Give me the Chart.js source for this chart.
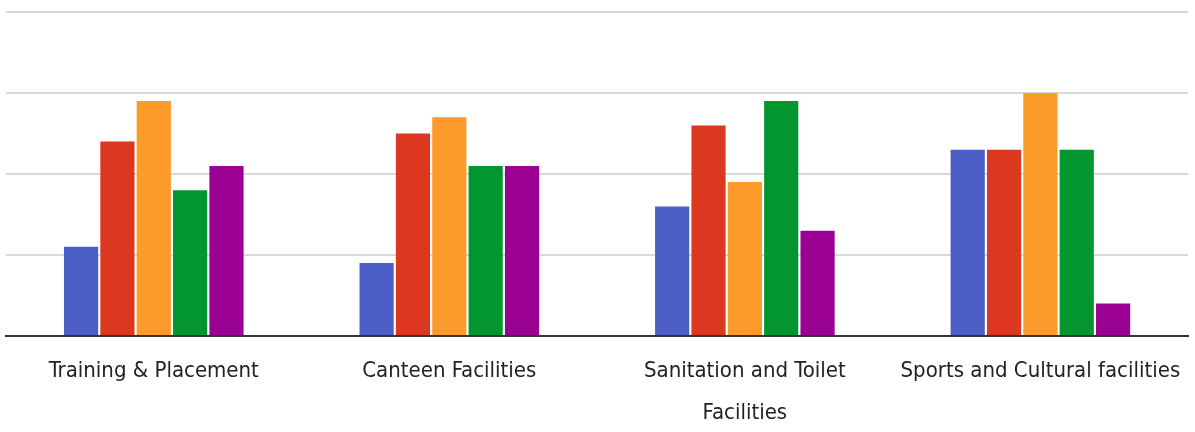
<!DOCTYPE html>
<html lang="en">
<head>
    <meta charset="UTF-8">
    <title>Facilities Survey</title>
    <script src="https://cdn.jsdelivr.net/npm/chart.js"></script>
    <style>
        body {
            margin: 0;
            background-color: #ffffff;
        }
        #chart-container {
            width: 1195px;
            height: 432px;
        }
    </style>
</head>
<body>
    <div id="chart-container">
        <canvas id="surveyChart"></canvas>
    </div>

    <script>
        // categories and series values
        const categories = [
            'Training & Placement',
            'Canteen Facilities',
            ['Sanitation and Toilet', 'Facilities'],
            'Sports and Cultural facilities'
        ];
        const seriesBlue = [11, 9, 16, 23];
        const seriesRed = [24, 25, 26, 23];
        const seriesOrange = [29, 27, 19, 30];
        const seriesGreen = [18, 21, 29, 23];
        const seriesPurple = [21, 21, 13, 4];

        const colors = ['#4a5ec6', '#dc381f', '#fc9a2a', '#04962e', '#9a0092'];
        const series = [seriesBlue, seriesRed, seriesOrange, seriesGreen, seriesPurple];

        const ctx = document.getElementById('surveyChart').getContext('2d');
        const chart = new Chart(ctx, {
            type: 'bar',
            data: {
                labels: categories,
                datasets: series.map((values, i) => ({
                    data: values,
                    backgroundColor: colors[i],
                    borderWidth: 0,
                    categoryPercentage: 0.615,
                    barPercentage: 0.94
                }))
            },
            options: {
                responsive: true,
                maintainAspectRatio: false,
                animation: false,
                layout: {
                    padding: { left: 6, right: 6, top: 12, bottom: -16 }
                },
                plugins: {
                    legend: { display: false },
                    tooltip: { enabled: false }
                },
                scales: {
                    x: {
                        grid: { display: false, drawTicks: false },
                        border: { color: '#333333', width: 2 },
                        ticks: {
                            color: '#222222',
                            padding: 14,
                            maxRotation: 0,
                            autoSkip: false,
                            font: {
                                family: "'DejaVu Sans Condensed', 'Liberation Sans', sans-serif",
                                size: 22,
                                lineHeight: 1.91
                            }
                        }
                    },
                    y: {
                        min: 0,
                        max: 40,
                        ticks: { display: false, stepSize: 10 },
                        border: { display: false },
                        grid: { color: '#d9d9d9', lineWidth: 2, drawTicks: false }
                    }
                }
            }
        });
    </script>
</body>
</html>
